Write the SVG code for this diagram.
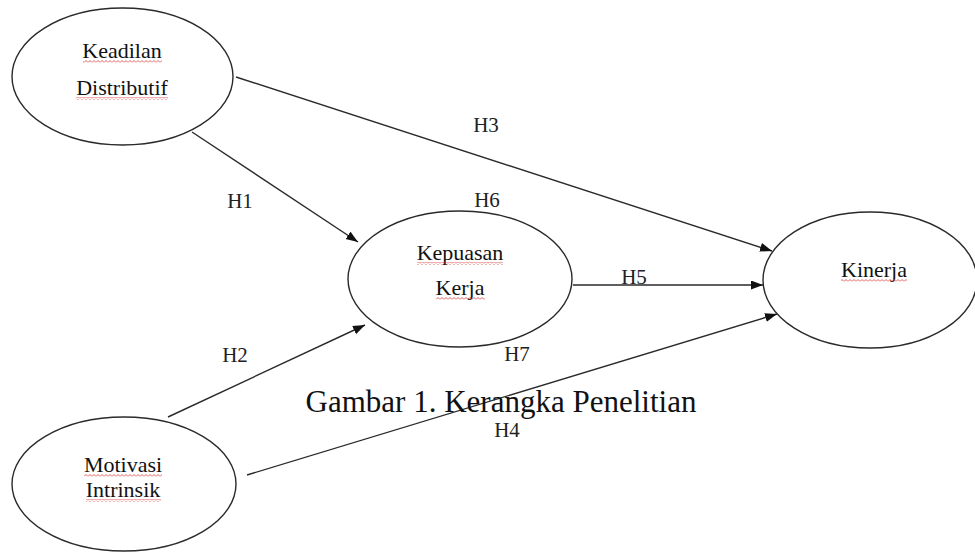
<svg xmlns="http://www.w3.org/2000/svg" width="975" height="552" viewBox="0 0 975 552">
<style>
.node ellipse{fill:#fff;stroke:#2a2a2a;stroke-width:1.4}
.lbl{font-family:"Liberation Serif","Times New Roman",serif;font-size:22px;fill:#111;text-anchor:middle}
.h{font-family:"Liberation Serif","Times New Roman",serif;font-size:21px;fill:#222;text-anchor:middle}
.cap{font-family:"Liberation Serif","Times New Roman",serif;font-size:31px;fill:#111;text-anchor:middle}
.edge{stroke:#2a2a2a;stroke-width:1.4;fill:none}
.sq{fill:url(#squig)}
</style>
<defs>
<marker id="arr" markerUnits="userSpaceOnUse" markerWidth="13" markerHeight="10" refX="12" refY="4.5" orient="auto">
<path d="M0,0 L12,4.5 L0,9 z" fill="#111"/>
</marker>
<pattern id="squig" patternUnits="userSpaceOnUse" width="4" height="3">
<path d="M0,2.5 L2,0.5 L4,2.5" stroke="#d33" stroke-width="0.8" fill="none"/>
</pattern>
</defs>
<rect width="975" height="552" fill="#fff"/>
<g id="connectors">
<line class="edge" x1="236" y1="77" x2="772" y2="251" marker-end="url(#arr)"/>
<line class="edge" x1="192" y1="132" x2="358" y2="242" marker-end="url(#arr)"/>
<line class="edge" x1="168" y1="417" x2="365" y2="325" marker-end="url(#arr)"/>
<line class="edge" x1="247" y1="475" x2="777" y2="314" marker-end="url(#arr)"/>
<line class="edge" x1="573" y1="285" x2="763" y2="285" marker-end="url(#arr)"/>
</g>
<g id="node-keadilan" class="node">
<ellipse cx="122.5" cy="76.5" rx="110.5" ry="68.5"/>
<text class="lbl" x="122" y="58">Keadilan</text>
<rect class="sq" x="83" y="60" width="79" height="3"/>
<text class="lbl" x="122" y="95">Distributif</text>
<rect class="sq" x="76" y="97" width="92" height="3"/>
</g>
<g id="node-kepuasan" class="node">
<ellipse cx="460" cy="279" rx="112" ry="68"/>
<text class="lbl" x="460" y="260">Kepuasan</text>
<rect class="sq" x="417" y="262" width="86" height="3"/>
<text class="lbl" x="460" y="295">Kerja</text>
<rect class="sq" x="436" y="297" width="49" height="3"/>
</g>
<g id="node-kinerja" class="node">
<ellipse cx="870" cy="280" rx="107" ry="68"/>
<text class="lbl" x="874" y="277">Kinerja</text>
<rect class="sq" x="841" y="279" width="66" height="3"/>
</g>
<g id="node-motivasi" class="node">
<ellipse cx="124" cy="484" rx="112" ry="67"/>
<text class="lbl" x="123" y="472">Motivasi</text>
<rect class="sq" x="84" y="474" width="78" height="3"/>
<text class="lbl" x="123" y="497">Intrinsik</text>
<rect class="sq" x="86" y="499" width="75" height="3"/>
</g>
<g id="labels">
<text class="h" x="486" y="132">H3</text>
<text class="h" x="240" y="208">H1</text>
<text class="h" x="487" y="207">H6</text>
<text class="h" x="634" y="284">H5</text>
<text class="h" x="517" y="361">H7</text>
<text class="h" x="235" y="362">H2</text>
<text class="h" x="507" y="437">H4</text>
</g>
<text class="cap" x="501" y="412">Gambar 1. Kerangka Penelitian</text>
</svg>
